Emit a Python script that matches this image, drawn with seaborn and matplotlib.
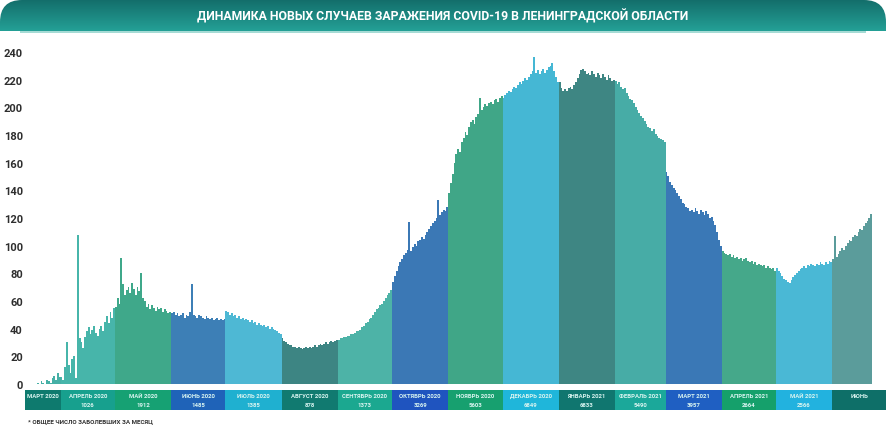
import numpy as np
import pandas as pd
import matplotlib
matplotlib.use("Agg")
import matplotlib.pyplot as plt
import seaborn as sns
from matplotlib.patches import FancyBboxPatch, Rectangle
from matplotlib.colors import LinearSegmentedColormap

TITLE = "ДИНАМИКА НОВЫХ СЛУЧАЕВ ЗАРАЖЕНИЯ COVID-19 В ЛЕНИНГРАДСКОЙ ОБЛАСТИ"
FOOTNOTE = "* ОБЩЕЕ ЧИСЛО ЗАБОЛЕВШИХ ЗА МЕСЯЦ"

# daily new cases
mar_2020 = [0, 0, 0, 0, 0, 1, 0, 2, 1, 0, 3, 2, 1, 4, 6, 3, 8, 5]
apr_2020 = [5, 3, 12, 30, 14, 8, 18, 20, 4, 108, 33, 30, 26, 34, 38, 41, 36, 39, 42, 37,
            35, 40, 42, 38, 45, 49, 44, 52, 48, 55]
may_2020 = [56, 62, 58, 91, 72, 64, 68, 70, 66, 73, 69, 64, 70, 67, 80, 62, 60, 56, 58, 54,
            57, 55, 53, 56, 54, 55, 52, 54, 53, 51, 52]
jun_2020 = [51, 52, 50, 51, 49, 50, 51, 48, 50, 49, 52, 72, 50, 49, 48, 50, 49, 48, 47, 49,
            48, 47, 48, 46, 47, 48, 46, 47, 46, 47]
jul_2020 = [53, 52, 50, 51, 49, 50, 48, 49, 47, 48, 46, 47, 46, 45, 46, 44, 45, 43, 44, 43,
            42, 43, 41, 42, 40, 41, 40, 39, 38, 37, 36]
aug_2020 = [33, 31, 30, 29, 28, 28, 27, 27, 26, 27, 26, 25, 26, 27, 26, 27, 26, 27, 28, 27,
            28, 29, 28, 29, 30, 29, 30, 31, 30, 31, 32]
sep_2020 = [32, 33, 33, 34, 34, 35, 35, 36, 36, 37, 38, 38, 39, 41, 42, 44, 45, 47, 48, 50,
            52, 54, 55, 57, 58, 60, 62, 64, 66, 68]
oct_2020 = [74, 78, 82, 85, 88, 90, 93, 95, 97, 117, 96, 99, 101, 100, 103, 104, 106, 105, 108, 110,
            112, 114, 116, 118, 120, 133, 122, 124, 126, 125, 128]
nov_2020 = [138, 145, 152, 160, 166, 170, 168, 175, 178, 182, 180, 186, 189, 191, 188, 193, 195, 207, 198, 200,
            202, 201, 203, 204, 202, 205, 206, 204, 207, 208]
dec_2020 = [207, 209, 210, 212, 211, 213, 215, 214, 216, 218, 217, 219, 221, 220, 222, 224, 226, 236, 225, 227,
            224, 226, 228, 225, 227, 229, 230, 232, 226, 222, 218]
jan_2021 = [218, 214, 212, 213, 212, 214, 215, 213, 216, 218, 221, 224, 227, 228, 226, 224, 225, 223, 226, 224,
            222, 225, 223, 221, 224, 222, 220, 223, 221, 219, 220]
feb_2021 = [219, 217, 218, 215, 213, 214, 210, 208, 206, 205, 203, 200, 198, 196, 194, 192, 190, 188, 186, 185,
            183, 184, 181, 179, 178, 177, 176, 175]
mar_2021 = [153, 150, 146, 144, 142, 140, 138, 136, 134, 131, 130, 128, 127, 125, 126, 124, 127, 125, 123, 126,
            124, 122, 125, 123, 120, 121, 118, 115, 110, 104, 100]
apr_2021 = [96, 95, 94, 93, 94, 92, 93, 91, 92, 90, 91, 89, 90, 91, 89, 88, 89, 87, 88, 86,
            87, 86, 85, 86, 84, 85, 84, 83, 84, 82]
may_2021 = [84, 82, 80, 78, 76, 75, 74, 73, 75, 77, 79, 80, 82, 83, 84, 85, 84, 86, 85, 87,
            86, 85, 87, 86, 88, 87, 86, 88, 87, 89, 88]
jun_2021 = [90, 107, 92, 94, 96, 98, 97, 100, 102, 104, 103, 106, 108, 107, 110, 112, 111, 114, 116, 118,
            120, 123]

daily_cases = [mar_2020, apr_2020, may_2020, jun_2020, jul_2020, aug_2020, sep_2020, oct_2020,
               nov_2020, dec_2020, jan_2021, feb_2021, mar_2021, apr_2021, may_2021, jun_2021]

month_names = ["МАРТ 2020", "АПРЕЛЬ 2020", "МАЙ 2020", "ИЮНЬ 2020", "ИЮЛЬ 2020", "АВГУСТ 2020",
               "СЕНТЯБРЬ 2020", "ОКТЯБРЬ 2020", "НОЯБРЬ 2020", "ДЕКАБРЬ 2020", "ЯНВАРЬ 2021",
               "ФЕВРАЛЬ 2021", "МАРТ 2021", "АПРЕЛЬ 2021", "МАЙ 2021", "ИЮНЬ"]
show_total = [False] + [True] * 14 + [False]

bar_colors = ["#46b0a6", "#47b5aa", "#3fa88a", "#3d7fb6", "#4eb8d4", "#3d8583", "#4db3a7", "#3b78b5",
              "#40a687", "#45b7d4", "#3e8683", "#47aca6", "#3a78b6", "#45a88a", "#4ab8d5", "#5b9c9b"]
box_colors = ["#0e7a6e", "#17a08e", "#16a173", "#1f63b8", "#1fb0d0", "#117a70", "#1ba890", "#1f54bf",
              "#17a06f", "#1fb6da", "#10766f", "#1ba89a", "#1f5fc2", "#15a06b", "#22b2df", "#0e6f68"]

y_ticks = list(range(0, 241, 20))

rows = []
day = 0
for name, values in zip(month_names, daily_cases):
    for v in values:
        rows.append((day, v, name))
        day += 1
data = pd.DataFrame(rows, columns=["day", "cases", "month"])

sns.set_style("white")
plt.rcParams["font.family"] = ["Roboto", "DejaVu Sans"]

W, H = 886, 431
fig = plt.figure(figsize=(W / 100, H / 100), dpi=100)

ax = fig.add_axes([25 / W, 1 - 385 / H, 861 / W, 339 / H])
sns.barplot(data=data, x="day", y="cases", hue="month", hue_order=month_names,
            palette=dict(zip(month_names, bar_colors)), dodge=False, width=1,
            saturation=1, errorbar=None, legend=False, linewidth=0,
            antialiased=False, ax=ax)
x_lim = (-2.16, 473.2)
ax.set_xlim(*x_lim)
ax.set_ylim(0, 245)
ax.set_yticks(y_ticks)
ax.set_xticks([])
ax.set_xlabel("")
ax.set_ylabel("")
ax.tick_params(axis="y", length=0, pad=1.5, labelsize=8, labelcolor="#2e2e2e")
for label in ax.get_yticklabels():
    label.set_fontweight("bold")
sns.despine(ax=ax, left=True, bottom=True)

# month boxes under the bars
strip = fig.add_axes([25 / W, 20 / H, 861 / W, 20 / H])
strip.set_xlim(*x_lim)
strip.set_ylim(0, 1)
strip.axis("off")
start = 0
for i, values in enumerate(daily_cases):
    end = start + len(values) - 1
    x0 = x_lim[0] if i == 0 else start - 0.5
    x1 = x_lim[1] if i == len(daily_cases) - 1 else end + 0.5
    strip.add_patch(Rectangle((x0, 0), x1 - x0, 1, facecolor=box_colors[i], lw=0))
    xc = (x0 + x1) / 2
    strip.text(xc, 0.72, month_names[i], ha="center", va="center", fontsize=4.3,
               fontweight="bold", color="#d9f4f0")
    if show_total[i]:
        strip.text(xc, 0.28, str(sum(values)), ha="center", va="center", fontsize=4.3,
                   fontweight="bold", color="#d9f4f0")
    start = end + 1

fig.text(28 / W, 1 - 422 / H, FOOTNOTE, fontsize=4.5, fontweight="bold",
         color="#333333", va="center")

# title banner
banner = fig.add_axes([0, 1 - 35 / H, 1, 35 / H])
shape = FancyBboxPatch((0, 1), W, 60, boxstyle="round,pad=0,rounding_size=22",
                       facecolor="none", edgecolor="none", transform=banner.transData)
banner.add_patch(shape)
cmap = LinearSegmentedColormap.from_list("banner", ["#136d6a", "#24a096"])
banner.imshow(np.linspace(0, 1, 50).reshape(-1, 1), extent=[0, W, 32, 0], cmap=cmap,
              aspect="auto", clip_path=shape)
banner.add_patch(Rectangle((20, 32), W - 40, 2, facecolor="#a6dbd5", lw=0))
banner.text(W / 2, 16, TITLE, color="white", fontsize=8.8, fontweight="bold",
            ha="center", va="center")
banner.set_xlim(0, W)
banner.set_ylim(35, 0)
banner.axis("off")

fig.savefig("out.png", dpi=100)
